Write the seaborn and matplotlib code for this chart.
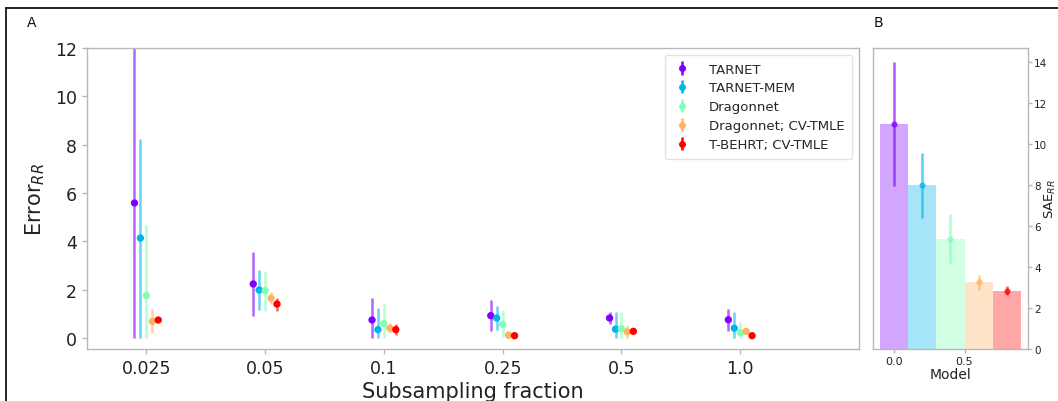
import numpy as np
import pandas as pd
import matplotlib
matplotlib.use("Agg")
import matplotlib.pyplot as plt
import seaborn as sns
from matplotlib.lines import Line2D

# ---------------- data ----------------
models = ["TARNET", "TARNET-MEM", "Dragonnet", "Dragonnet; CV-TMLE", "T-BEHRT; CV-TMLE"]
fractions = ["0.025", "0.05", "0.1", "0.25", "0.5", "1.0"]

tarnet_mid = [5.59, 2.24, 0.75, 0.93, 0.83, 0.76]
tarnet_lo = [0.0, 0.90, 0.0, 0.29, 0.58, 0.30]
tarnet_hi = [13.5, 3.58, 1.65, 1.58, 1.06, 1.20]

mem_mid = [4.14, 1.99, 0.35, 0.83, 0.37, 0.41]
mem_lo = [0.0, 1.16, 0.0, 0.32, 0.0, 0.0]
mem_hi = [8.23, 2.82, 1.23, 1.34, 1.06, 1.06]

dragon_mid = [1.76, 1.96, 0.60, 0.57, 0.39, 0.23]
dragon_lo = [0.0, 1.13, 0.0, 0.03, 0.0, 0.0]
dragon_hi = [4.66, 2.79, 1.45, 1.18, 1.06, 0.65]

dcv_mid = [0.69, 1.65, 0.41, 0.12, 0.26, 0.28]
dcv_lo = [0.23, 1.41, 0.23, 0.0, 0.0, 0.22]
dcv_hi = [1.20, 1.90, 0.62, 0.26, 0.54, 0.34]

tb_mid = [0.75, 1.41, 0.35, 0.10, 0.28, 0.10]
tb_lo = [0.70, 1.13, 0.12, 0.05, 0.22, 0.05]
tb_hi = [0.80, 1.66, 0.57, 0.15, 0.34, 0.15]

series_mid = [tarnet_mid, mem_mid, dragon_mid, dcv_mid, tb_mid]
series_lo = [tarnet_lo, mem_lo, dragon_lo, dcv_lo, tb_lo]
series_hi = [tarnet_hi, mem_hi, dragon_hi, dcv_hi, tb_hi]

sae_model_x = [0.0, 0.2, 0.4, 0.6, 0.8]
sae_mid = [10.98, 8.00, 5.38, 3.27, 2.84]
sae_lo = [7.98, 6.42, 4.20, 2.90, 2.62]
sae_hi = [14.00, 9.56, 6.59, 3.62, 3.10]

# ---------------- style ----------------
sns.set_style("white")
plt.rcParams["font.family"] = ["DejaVu Sans"]
plt.rcParams["axes.edgecolor"] = "#b8b8b8"
plt.rcParams["axes.linewidth"] = 1.0
plt.rcParams["xtick.color"] = "#b8b8b8"
plt.rcParams["ytick.color"] = "#b8b8b8"
plt.rcParams["xtick.labelcolor"] = "#222222"
plt.rcParams["ytick.labelcolor"] = "#222222"
plt.rcParams["xtick.bottom"] = True
plt.rcParams["ytick.left"] = True

colors = [plt.cm.rainbow(v) for v in np.linspace(0, 1, len(models))]
palette = dict(zip(models, colors))

fig = plt.figure(figsize=(10.58, 4.02), dpi=100)
axA = fig.add_axes([0.0822, 0.1294, 0.7297, 0.7486])
axB = fig.add_axes([0.8251, 0.1294, 0.1465, 0.7486])

# ---------------- panel A ----------------
offsets = np.linspace(-0.1, 0.1, len(models))
base = np.arange(len(fractions))
for k, m in enumerate(models):
    mid = np.array(series_mid[k])
    lo = np.array(series_lo[k])
    hi = np.array(series_hi[k])
    xs = base + offsets[k]
    axA.errorbar(xs, mid, yerr=[mid - lo, hi - mid], fmt="none",
                 ecolor=colors[k], elinewidth=1.8, alpha=0.6, capsize=0)
    axA.errorbar([], [], yerr=[], fmt="o", color=colors[k], markersize=4,
                 elinewidth=1.8, label=m)
df_pts = pd.DataFrame({
    "x": np.concatenate([base + offsets[k] for k in range(len(models))]),
    "y": np.concatenate(series_mid),
    "model": np.repeat(models, len(fractions)),
})
sns.scatterplot(data=df_pts, x="x", y="y", hue="model", palette=palette,
                s=28, edgecolor="none", legend=False, ax=axA, zorder=3)

axA.set_xticks(base)
axA.set_xticklabels(fractions)
axA.set_xlim(-0.5, 6.0)
axA.set_ylim(-0.45, 12)
axA.set_yticks([0, 2, 4, 6, 8, 10, 12])
axA.tick_params(axis="both", labelsize=12.5, length=3.5, width=1)
axA.set_xlabel("Subsampling fraction", fontsize=15, color="#222222", labelpad=3)
axA.set_ylabel("Error$_{RR}$", fontsize=15, color="#222222", labelpad=6)
leg = axA.legend(loc="upper right", fontsize=9.5, frameon=True, handlelength=1.4,
                 handletextpad=1.3, labelspacing=0.45, borderpad=0.6)
leg.get_frame().set_edgecolor("#dddddd")

# ---------------- panel B ----------------
df_b = pd.DataFrame({"x": sae_model_x, "sae": sae_mid, "model": models})
sns.barplot(data=df_b, x="x", y="sae", hue="model", palette=palette,
            native_scale=True, dodge=False, width=1.0, alpha=0.35, saturation=1,
            errorbar=None, legend=False, ax=axB, linewidth=0)
for k, m in enumerate(models):
    axB.errorbar([sae_model_x[k]], [sae_mid[k]],
                 yerr=[[sae_mid[k] - sae_lo[k]], [sae_hi[k] - sae_mid[k]]],
                 fmt="o", color=colors[k], markersize=3.5, elinewidth=1.8,
                 alpha=0.65, capsize=0)
axB.set_xlim(-0.15, 0.95)
axB.set_ylim(0, 14.7)
axB.set_xticks([0.0, 0.5])
axB.set_xticklabels(["0.0", "0.5"])
axB.set_yticks([0, 2, 4, 6, 8, 10, 12, 14])
axB.yaxis.tick_right()
axB.yaxis.set_label_position("right")
axB.tick_params(axis="x", labelsize=8, length=3, width=1, pad=2)
axB.tick_params(axis="y", labelsize=7.5, length=3, width=1, pad=1.5)
axB.set_xlabel("Model", fontsize=10, color="#222222", labelpad=1)
axB.set_ylabel("SAE$_{RR}$", fontsize=9.5, color="#222222", rotation=90,
               va="center", ha="center")
axB.yaxis.set_label_coords(1.148, 0.5)

# ---------------- panel letters and frame ----------------
fig.text(32 / 1058, 1 - 23 / 402, "A", fontsize=10, ha="center", va="center", color="#111111")
fig.text(878 / 1058, 1 - 23 / 402, "B", fontsize=10, ha="center", va="center", color="#111111")
fig.add_artist(Line2D([6 / 1058, 1.0], [1 - 9 / 402, 1 - 9 / 402], color="black", lw=1.2,
                      transform=fig.transFigure))
fig.add_artist(Line2D([6 / 1058, 6 / 1058], [0.0, 1 - 9 / 402], color="black", lw=1.2,
                      transform=fig.transFigure))

fig.savefig("out.png", dpi=100)
